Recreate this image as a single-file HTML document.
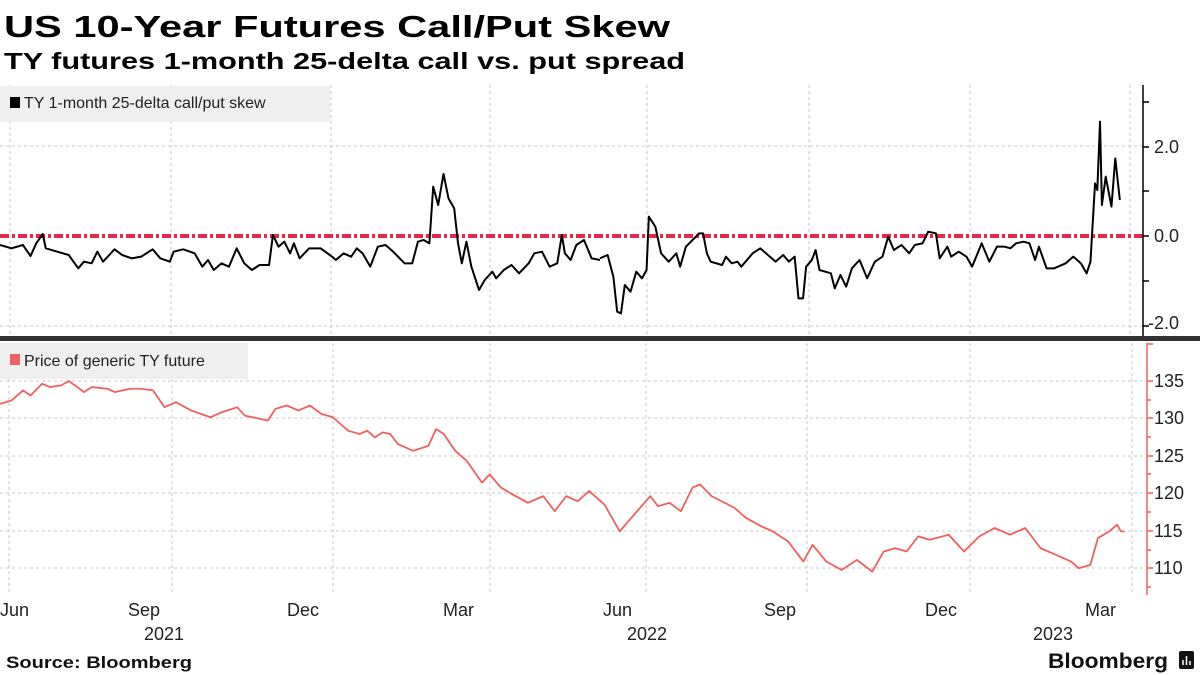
<!DOCTYPE html>
<html><head><meta charset="utf-8"><style>
html,body{margin:0;padding:0;background:#fff;}
svg{display:block;font-family:"Liberation Sans",sans-serif;}
</style></head><body>
<svg width="1200" height="675" viewBox="0 0 1200 675" xmlns="http://www.w3.org/2000/svg">
<rect width="1200" height="675" fill="#fff"/>
<text x="4" y="37" font-size="31" font-weight="bold" textLength="666" lengthAdjust="spacingAndGlyphs">US 10-Year Futures Call/Put Skew</text>
<text x="4" y="69" font-size="23" font-weight="bold" textLength="681" lengthAdjust="spacingAndGlyphs">TY futures 1-month 25-delta call vs. put spread</text>
<g stroke="#c8c8c8" stroke-width="1" stroke-dasharray="3,3" fill="none">
<line x1="10" y1="85" x2="10" y2="335"/><line x1="171" y1="85" x2="171" y2="335"/><line x1="331" y1="85" x2="331" y2="335"/><line x1="490" y1="85" x2="490" y2="335"/><line x1="647" y1="85" x2="647" y2="335"/><line x1="809" y1="85" x2="809" y2="335"/><line x1="970" y1="85" x2="970" y2="335"/><line x1="1130" y1="85" x2="1130" y2="335"/>
<line x1="0" y1="146" x2="1143" y2="146"/><line x1="0" y1="326" x2="1143" y2="326"/>
<line x1="9" y1="343" x2="9" y2="595"/><line x1="172" y1="343" x2="172" y2="595"/><line x1="333" y1="343" x2="333" y2="595"/><line x1="490" y1="343" x2="490" y2="595"/><line x1="646" y1="343" x2="646" y2="595"/><line x1="807" y1="343" x2="807" y2="595"/><line x1="970" y1="343" x2="970" y2="595"/><line x1="1132" y1="343" x2="1132" y2="595"/>
<line x1="0" y1="381" x2="1147" y2="381"/><line x1="0" y1="418" x2="1147" y2="418"/><line x1="0" y1="456" x2="1147" y2="456"/><line x1="0" y1="493" x2="1147" y2="493"/><line x1="0" y1="531" x2="1147" y2="531"/><line x1="0" y1="568" x2="1147" y2="568"/>
</g>
<rect x="0" y="86" width="330" height="36" fill="#efefef"/>
<rect x="10" y="97" width="10" height="11" fill="#000"/>
<text x="24" y="108" font-size="16" fill="#222">TY 1-month 25-delta call/put skew</text>
<line x1="0" y1="236" x2="1143" y2="236" stroke="#e8284a" stroke-width="4" stroke-dasharray="9,3,3,3"/>
<g fill="none" stroke="#000" stroke-width="2" stroke-linejoin="round">
<polyline vector-effect="non-scaling-stroke" transform="translate(0,80) scale(0.38168,0.33333)" points="0,495 30,505 60,495 80,528 95,490 112,462 120,505 150,515 180,525 205,565 220,545 240,550 255,515 270,545 300,508 320,525 345,535 370,530 400,508 420,535 445,545 455,515 480,508 510,520 530,560 545,540 560,570 580,550 600,560 620,505 640,550 660,570 680,555 705,555 715,465 730,500 745,485 760,520 770,490 785,535 810,505 840,505 870,530 880,540 900,520 920,530 935,505 950,520 970,560 990,500 1010,495 1030,515 1060,550 1080,550 1095,485 1110,480 1125,490 1135,320 1148,375 1162,282 1175,355 1190,385 1200,490 1210,550 1222,485 1235,560 1255,630 1270,600 1290,575 1300,595 1320,570 1340,555 1360,580 1385,550 1400,520 1420,515 1440,560 1460,550 1472,465 1480,520 1495,540 1510,495 1530,480 1550,535 1572,540"/>
<polyline vector-effect="non-scaling-stroke" transform="translate(600,80) scale(0.38168,0.33333)" points="0,535 20,525 35,590 45,695 55,700 65,615 80,635 95,575 110,595 122,570 128,410 145,440 160,520 180,545 200,520 210,560 225,500 260,460 270,460 280,520 290,545 320,555 330,530 345,550 360,545 370,560 400,520 420,505 440,525 460,545 480,525 495,545 510,530 520,655 532,655 540,560 555,540 565,510 575,570 605,580 615,625 630,585 645,620 660,565 680,540 700,595 720,545 740,530 755,470 770,510 790,495 810,520 825,495 845,490 860,455 880,460 890,535 910,500 920,530 940,515 960,530 975,560 1000,490 1020,545 1040,500 1060,500 1075,505 1090,490 1110,485 1125,490 1140,540 1150,500 1170,565 1190,565 1220,550 1240,530 1260,550 1275,580 1285,545 1297,310 1303,330 1310,125 1315,375 1325,290 1340,380 1350,235 1362,360"/>
</g>
<line x1="1143" y1="85" x2="1143" y2="336" stroke="#000" stroke-width="1.5"/>
<g stroke="#000" stroke-width="1.5">
<line x1="1143" y1="102" x2="1149" y2="102"/><line x1="1143" y1="147" x2="1149" y2="147"/><line x1="1143" y1="191" x2="1149" y2="191"/><line x1="1143" y1="236" x2="1149" y2="236"/><line x1="1143" y1="281" x2="1149" y2="281"/><line x1="1143" y1="326" x2="1149" y2="326"/>
</g>
<g font-size="18" fill="#222">
<text x="1154" y="153">2.0</text><text x="1154" y="242">0.0</text><text x="1148" y="329">-2.0</text>
</g>
<rect x="0" y="336" width="1200" height="5" fill="#333"/>
<rect x="0" y="343" width="248" height="36" fill="#efefef"/>
<rect x="10" y="354" width="10" height="11" fill="#f06060"/>
<text x="24" y="366" font-size="16" fill="#222">Price of generic TY future</text>
<polyline fill="none" stroke="#f06060" stroke-width="1.8" stroke-linejoin="round" vector-effect="non-scaling-stroke" transform="translate(0,330) scale(0.7651,0.3356)" points="0,220 15,210 30,180 40,195 55,160 65,170 80,165 90,152 110,185 120,170 140,175 150,185 170,175 185,175 200,180 215,230 230,215 250,240 275,260 290,245 310,230 320,255 350,270 360,235 375,225 390,240 405,225 420,250 435,260 455,300 470,310 480,300 490,320 500,305 510,310 520,340 540,360 560,345 570,295 580,310 595,360 610,390 630,455 640,430 655,470 670,490 690,515 710,495 725,540 740,495 755,510 770,480 790,520 810,600 825,560 850,495 860,525 875,515 890,540 905,470 915,460 930,495 960,530 975,560 995,585 1010,600 1030,630 1050,690 1062,640 1080,690 1100,715 1120,685 1140,720 1155,660 1170,650 1185,660 1200,615 1215,625 1240,610 1260,660 1280,615 1300,590 1320,610 1340,590 1360,650 1380,670 1400,690 1410,710 1425,700 1435,620 1450,600 1460,580 1465,600 1470,600"/>
<line x1="1147" y1="343" x2="1147" y2="595" stroke="#f06060" stroke-width="1.5"/>
<g stroke="#f06060" stroke-width="1.5">
<line x1="1147" y1="344" x2="1153" y2="344"/><line x1="1147" y1="381" x2="1153" y2="381"/><line x1="1147" y1="400" x2="1151" y2="400"/><line x1="1147" y1="418" x2="1153" y2="418"/><line x1="1147" y1="437" x2="1151" y2="437"/><line x1="1147" y1="456" x2="1153" y2="456"/><line x1="1147" y1="474" x2="1151" y2="474"/><line x1="1147" y1="493" x2="1153" y2="493"/><line x1="1147" y1="512" x2="1151" y2="512"/><line x1="1147" y1="531" x2="1153" y2="531"/><line x1="1147" y1="550" x2="1151" y2="550"/><line x1="1147" y1="568" x2="1153" y2="568"/><line x1="1147" y1="587" x2="1151" y2="587"/>
</g>
<g font-size="18" fill="#222">
<text x="1154" y="387">135</text><text x="1154" y="424">130</text><text x="1154" y="462">125</text><text x="1154" y="499">120</text><text x="1154" y="537">115</text><text x="1154" y="574">110</text>
</g>
<g font-size="18" fill="#222">
<text x="0" y="616">Jun</text><text x="128" y="616">Sep</text><text x="287" y="616">Dec</text><text x="443" y="616">Mar</text><text x="603" y="616">Jun</text><text x="764" y="616">Sep</text><text x="925" y="616">Dec</text><text x="1085" y="616">Mar</text>
<text x="144" y="640">2021</text><text x="627" y="640">2022</text><text x="1033" y="640">2023</text>
</g>
<text x="6" y="668" font-size="17" font-weight="bold" fill="#111" textLength="186" lengthAdjust="spacingAndGlyphs">Source: Bloomberg</text>
<text x="1048" y="668" font-size="21" font-weight="bold" fill="#111" textLength="120" lengthAdjust="spacingAndGlyphs">Bloomberg</text>
<rect x="1179" y="651" width="15" height="18" rx="2" fill="#111"/>
<g stroke="#fff" stroke-width="1.5"><line x1="1183" y1="665" x2="1183" y2="660"/><line x1="1186.5" y1="665" x2="1186.5" y2="656"/><line x1="1190" y1="665" x2="1190" y2="661"/></g>
</svg>
</body></html>
